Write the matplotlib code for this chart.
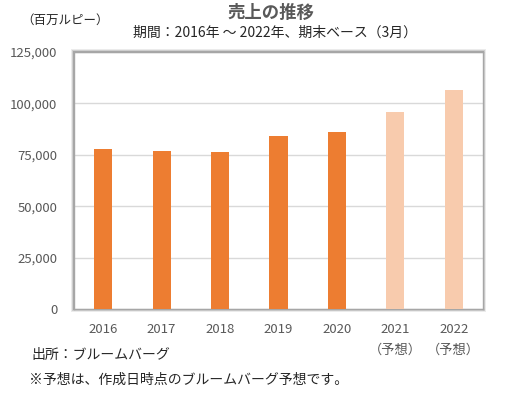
import matplotlib
matplotlib.use("Agg")
import matplotlib.pyplot as plt
from matplotlib.patches import Rectangle
from matplotlib.ticker import FuncFormatter

plt.rcParams['font.family'] = ['Noto Sans CJK JP', 'DejaVu Sans']

# data
years = ["2016", "2017", "2018", "2019", "2020", "2021\n（予想）", "2022\n（予想）"]
sales = [78000, 76800, 76200, 84000, 86000, 95800, 106400]
is_forecast = [False, False, False, False, False, True, True]

c_actual = "#ED7D31"
c_forecast = "#F8CBAD"
text_c = "#595959"

fig = plt.figure(figsize=(5.05, 3.94), dpi=100)
pos = [0.1465, 0.2157, 0.8099, 0.6523]
ax = fig.add_axes(pos)
ax.set_zorder(2)
ax.set_facecolor("white")

# soft shadow round the plot frame
for i, a in enumerate([0.08, 0.12, 0.18]):
    dx = (3 - i) / 505
    dy = (3 - i) / 394
    fig.patches.append(Rectangle((pos[0] - dx, pos[1] - dy), pos[2] + 2 * dx, pos[3] + 2 * dy,
                                 transform=fig.transFigure, facecolor="black",
                                 edgecolor="none", alpha=a, zorder=-1))

colors = [c_forecast if f else c_actual for f in is_forecast]
ax.bar(range(len(years)), sales, width=0.31, color=colors, zorder=3)

ax.set_xlim(-0.5, len(years) - 0.5)
ax.set_ylim(0, 125000)
ax.set_yticks(range(0, 125001, 25000))
ax.yaxis.set_major_formatter(FuncFormatter(lambda v, p: f"{int(v):,}"))
ax.set_xticks(range(len(years)))
ax.set_xticklabels(years, linespacing=1.75)
ax.tick_params(axis="both", length=0, labelsize=9.5, colors=text_c)
ax.tick_params(axis="y", pad=12)
ax.tick_params(axis="x", pad=10)
ax.grid(axis="y", color="#d9d9d9", linewidth=1, zorder=0)

for s in ax.spines.values():
    s.set_color("#a6a6a6")
    s.set_linewidth(1)

fig.text(0.537, 0.967, "売上の推移", ha="center", va="center", fontsize=12.5,
         fontweight="bold", color=text_c)
fig.text(0.545, 0.916, "期間：2016年 ～ 2022年、期末ベース（3月）", ha="center", va="center",
         fontsize=10, color="#262626")
fig.text(0.043, 0.949, "（百万ルピー）", ha="left", va="center", fontsize=9, color="#262626")

fig.text(0.063, 0.099, "出所：ブルームバーグ", ha="left", va="center", fontsize=10, color="#262626")
fig.text(0.058, 0.036, "※予想は、作成日時点のブルームバーグ予想です。", ha="left", va="center",
         fontsize=10, color="#262626")

fig.savefig("out.png", dpi=100)
